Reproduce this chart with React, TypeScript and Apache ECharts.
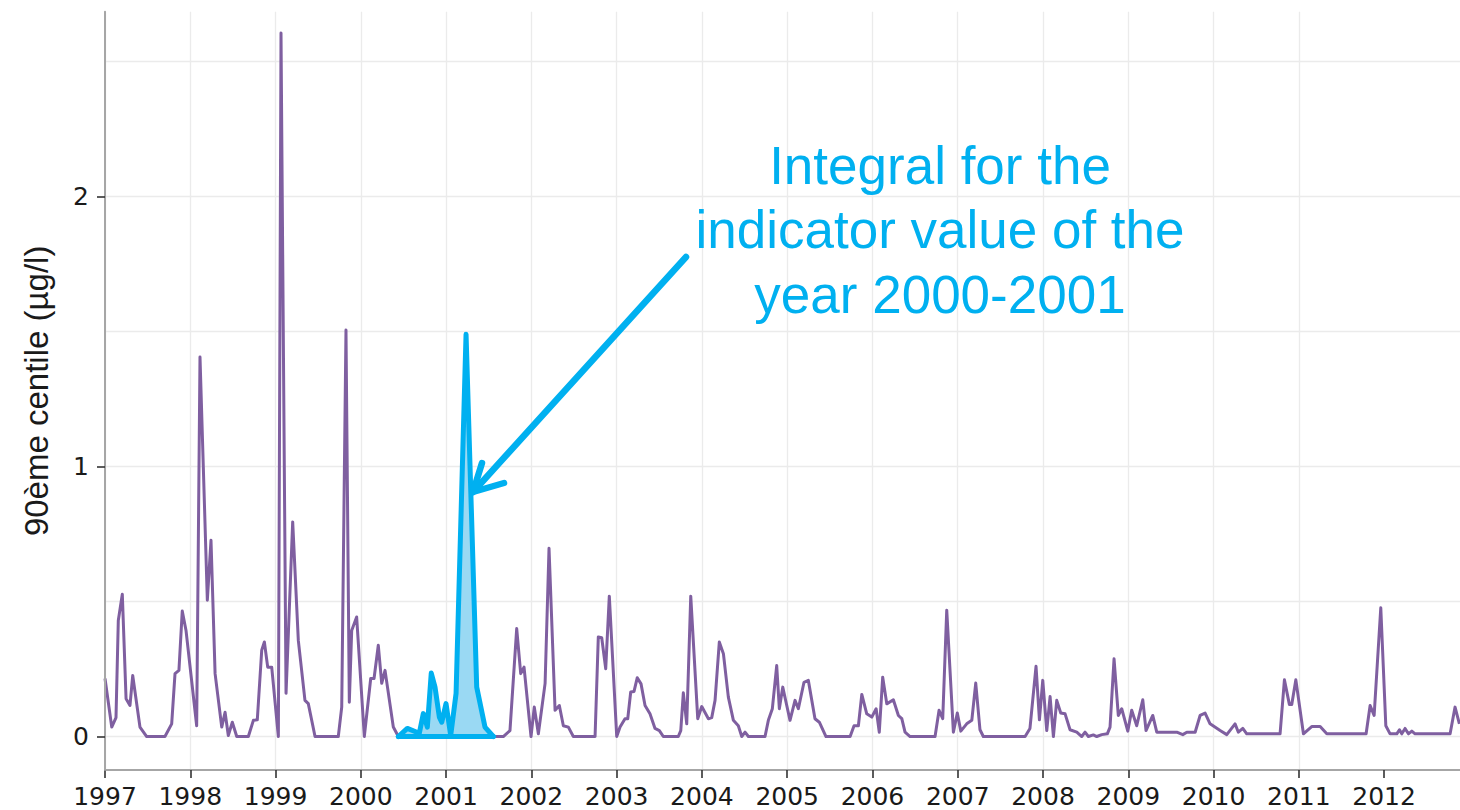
import React, { useEffect, useRef } from "react";
import * as echarts from "echarts";

// Dates as decimal years
const dates = [
  1997.000, 1997.079, 1997.129, 1997.156, 1997.203, 1997.247, 1997.293, 1997.325, 1997.410, 1997.489,
  1997.703, 1997.782, 1997.821, 1997.867, 1997.906, 1997.950, 1998.075, 1998.114, 1998.200, 1998.243,
  1998.291, 1998.369, 1998.408, 1998.446, 1998.493, 1998.545, 1998.681, 1998.740, 1998.786, 1998.838,
  1998.869, 1998.908, 1998.955, 1999.033, 1999.064, 1999.123, 1999.201, 1999.267, 1999.345, 1999.384,
  1999.463, 1999.736, 1999.776, 1999.826, 1999.865, 1999.893, 1999.951, 2000.041, 2000.116, 2000.155,
  2000.205, 2000.245, 2000.284, 2000.381, 2000.440, 2000.545, 2000.686, 2000.733, 2000.780, 2000.826,
  2000.870, 2000.921, 2000.949, 2000.999, 2001.054, 2001.117, 2001.234, 2001.359, 2001.456, 2001.554,
  2001.671, 2001.749, 2001.828, 2001.875, 2001.914, 2001.996, 2002.034, 2002.082, 2002.161, 2002.207,
  2002.278, 2002.328, 2002.375, 2002.434, 2002.492, 2002.747, 2002.785, 2002.825, 2002.872, 2002.914,
  2003.001, 2003.040, 2003.098, 2003.130, 2003.165, 2003.204, 2003.242, 2003.286, 2003.333, 2003.391,
  2003.450, 2003.501, 2003.547, 2003.723, 2003.752, 2003.782, 2003.822, 2003.869, 2003.951, 2003.998,
  2004.076, 2004.115, 2004.154, 2004.204, 2004.252, 2004.310, 2004.369, 2004.427, 2004.467, 2004.506,
  2004.545, 2004.740, 2004.779, 2004.826, 2004.877, 2004.908, 2004.948, 2004.995, 2005.033, 2005.092,
  2005.131, 2005.197, 2005.248, 2005.326, 2005.377, 2005.455, 2005.738, 2005.784, 2005.835, 2005.875,
  2005.933, 2005.992, 2006.043, 2006.080, 2006.120, 2006.168, 2006.245, 2006.304, 2006.344, 2006.382,
  2006.441, 2006.734, 2006.781, 2006.824, 2006.871, 2006.949, 2006.995, 2007.036, 2007.105, 2007.165,
  2007.211, 2007.261, 2007.300, 2007.790, 2007.847, 2007.918, 2007.958, 2007.997, 2008.044, 2008.083,
  2008.122, 2008.161, 2008.208, 2008.259, 2008.317, 2008.396, 2008.454, 2008.493, 2008.532, 2008.590,
  2008.630, 2008.689, 2008.754, 2008.786, 2008.833, 2008.883, 2008.923, 2008.994, 2009.040, 2009.099,
  2009.170, 2009.208, 2009.287, 2009.334, 2009.569, 2009.639, 2009.686, 2009.784, 2009.842, 2009.901,
  2009.959, 2010.077, 2010.155, 2010.252, 2010.291, 2010.343, 2010.389, 2010.545, 2010.780, 2010.831,
  2010.889, 2010.917, 2010.965, 2011.054, 2011.151, 2011.250, 2011.328, 2011.789, 2011.836, 2011.883,
  2011.961, 2012.020, 2012.070, 2012.149, 2012.180, 2012.207, 2012.246, 2012.285, 2012.325, 2012.363,
  2012.774, 2012.832, 2012.883,
];

// 90th centile values (µg/l)
const values = [
  0.215, 0.035, 0.07, 0.43, 0.527, 0.14, 0.115, 0.226, 0.035, 0,
  0, 0.047, 0.233, 0.245, 0.465, 0.393, 0.04, 1.406, 0.505, 0.727,
  0.233, 0.035, 0.09, 0.004, 0.053, 0, 0, 0.06, 0.062, 0.32,
  0.35, 0.257, 0.257, 0, 2.606, 0.16, 0.795, 0.356, 0.134, 0.122,
  0, 0, 0.109, 1.506, 0.127, 0.393, 0.443, 0, 0.215, 0.215,
  0.338, 0.197, 0.245, 0.035, 0, 0.03, 0.012, 0.085, 0.035, 0.235,
  0.183, 0.072, 0.053, 0.122, 0.004, 0.16, 1.49, 0.183, 0.035, 0,
  0, 0.022, 0.4, 0.233, 0.257, 0, 0.109, 0.01, 0.197, 0.697,
  0.097, 0.115, 0.04, 0.035, 0, 0, 0.369, 0.366, 0.251, 0.52,
  0, 0.035, 0.066, 0.066, 0.165, 0.167, 0.218, 0.195, 0.115, 0.084,
  0.03, 0.022, 0, 0, 0.022, 0.162, 0.047, 0.52, 0.066, 0.111,
  0.066, 0.07, 0.134, 0.35, 0.307, 0.146, 0.06, 0.04, 0, 0.016,
  0, 0, 0.06, 0.103, 0.263, 0.103, 0.183, 0.115, 0.06, 0.134,
  0.103, 0.201, 0.208, 0.066, 0.053, 0, 0, 0.04, 0.04, 0.156,
  0.084, 0.072, 0.103, 0.016, 0.22, 0.121, 0.136, 0.078, 0.066, 0.016,
  0, 0, 0.097, 0.066, 0.468, 0.016, 0.087, 0.02, 0.047, 0.06,
  0.198, 0.025, 0, 0, 0.03, 0.26, 0.062, 0.208, 0.022, 0.148,
  0, 0.134, 0.087, 0.084, 0.025, 0.016, 0, 0.016, 0, 0.006,
  0, 0.007, 0.01, 0.035, 0.288, 0.078, 0.103, 0.02, 0.097, 0.04,
  0.136, 0.022, 0.078, 0.016, 0.016, 0.007, 0.016, 0.016, 0.078, 0.087,
  0.047, 0.022, 0.007, 0.047, 0.016, 0.03, 0.01, 0.01, 0.01, 0.21,
  0.119, 0.119, 0.21, 0.01, 0.037, 0.037, 0.01, 0.01, 0.115, 0.078,
  0.477, 0.04, 0.01, 0.01, 0.025, 0.01, 0.03, 0.01, 0.02, 0.01,
  0.01, 0.109, 0.047,
];

const yearTicks = [1997, 1998, 1999, 2000, 2001, 2002, 2003, 2004, 2005, 2006, 2007, 2008, 2009, 2010, 2011, 2012];
const yTickValues = [0, 1, 2];
const highlightStart = 2000.44;
const highlightEnd = 2001.554;
const annotationLines = ["Integral for the", "indicator value of the", "year 2000-2001"];
const yAxisTitle = "90ème centile (µg/l)";

const PURPLE = "#7f5fa0";
const CYAN = "#00b0f0";
const CYAN_FILL = "#9ad9f3";
const GRID = "#ebebeb";

const Y_MIN = -0.124;
const Y_MAX = 2.685;

export default function App() {
  const ref = useRef<HTMLDivElement>(null);

  useEffect(() => {
    if (!ref.current) return;
    const chart = echarts.init(ref.current, null, { renderer: "svg" });
    const data = dates.map((d, i) => [d, values[i]]);
    const hl = data.filter((p) => p[0] >= highlightStart - 1e-9 && p[0] <= highlightEnd + 1e-9);
    const base = [
      [hl[0][0], 0],
      [hl[hl.length - 1][0], 0],
    ];

    const textStyleBase = { fontFamily: "DejaVu Sans", color: "#1a1a1a" };

    chart.setOption({
      animation: false,
      backgroundColor: "#ffffff",
      grid: { left: 105, right: 0, top: 11.7, bottom: 40, containLabel: false },
      xAxis: {
        type: "value",
        min: 1997,
        max: 2012.89,
        interval: 1,
        axisLine: { show: true, onZero: false, lineStyle: { color: "#a6a6a6", width: 2 } },
        axisTick: { show: true, customValues: yearTicks, length: 8, lineStyle: { color: "#333333", width: 1.6 } },
        axisLabel: {
          customValues: yearTicks,
          formatter: (v: number) => String(Math.round(v)),
          fontSize: 25,
          margin: 14,
          ...textStyleBase,
        },
        splitLine: { show: true, showMaxLine: false, lineStyle: { color: GRID, width: 1.3 } },
      },
      yAxis: [
        {
          type: "value",
          min: Y_MIN,
          max: Y_MAX,
          name: yAxisTitle,
          nameLocation: "middle",
          nameRotate: 90,
          nameGap: 52,
          nameTextStyle: { fontFamily: "Liberation Sans", fontSize: 33, color: "#1a1a1a" },
          axisLine: { show: true, onZero: false, lineStyle: { color: "#a6a6a6", width: 2 } },
          axisTick: { show: true, customValues: yTickValues, length: 8, lineStyle: { color: "#333333", width: 1.6 } },
          axisLabel: {
            customValues: yTickValues,
            formatter: (v: number) => String(Math.round(v)),
            fontSize: 25,
            margin: 16,
            ...textStyleBase,
          },
          splitLine: { show: false },
          z: 3,
        },
        {
          type: "value",
          position: "left",
          min: Y_MIN,
          max: Y_MAX,
          splitNumber: 6,
          axisLine: { show: false },
          axisTick: { show: false },
          axisLabel: { show: false },
          splitLine: { show: true, showMinLine: false, showMaxLine: false, lineStyle: { color: GRID, width: 1.3 } },
          z: 0,
        },
      ],
      series: [
        {
          type: "line",
          data,
          symbol: "none",
          lineStyle: { color: PURPLE, width: 3, join: "round" },
          z: 2,
        },
        {
          type: "line",
          data: hl,
          symbol: "none",
          lineStyle: { color: CYAN, width: 5, join: "round", cap: "round" },
          areaStyle: { color: CYAN_FILL, opacity: 1, origin: "auto" },
          z: 3,
        },
        {
          type: "line",
          data: base,
          symbol: "none",
          lineStyle: { color: CYAN, width: 5, cap: "round" },
          z: 4,
        },
      ],
      graphic: [
        {
          type: "line",
          shape: { x1: 686, y1: 257, x2: 473, y2: 492 },
          style: { stroke: CYAN, lineWidth: 6.5, lineCap: "round" },
          z: 100,
        },
        {
          type: "polyline",
          shape: { points: [[482, 463], [473, 492], [504, 483]] },
          style: { stroke: CYAN, fill: null, lineWidth: 6.5, lineCap: "round", lineJoin: "round" },
          z: 100,
        },
        ...annotationLines.map((t, i) => ({
          type: "text",
          x: 940,
          y: 165 + i * 64.5,
          z: 100,
          style: {
            text: t,
            fill: CYAN,
            fontSize: 53,
            fontFamily: "Liberation Sans",
            align: "center",
            verticalAlign: "middle",
          },
        })),
      ],
    });

    return () => chart.dispose();
  }, []);

  return (
    <div
      ref={ref}
      style={{ position: "absolute", left: 0, top: 0, width: 1460, height: 810 }}
    />
  );
}
